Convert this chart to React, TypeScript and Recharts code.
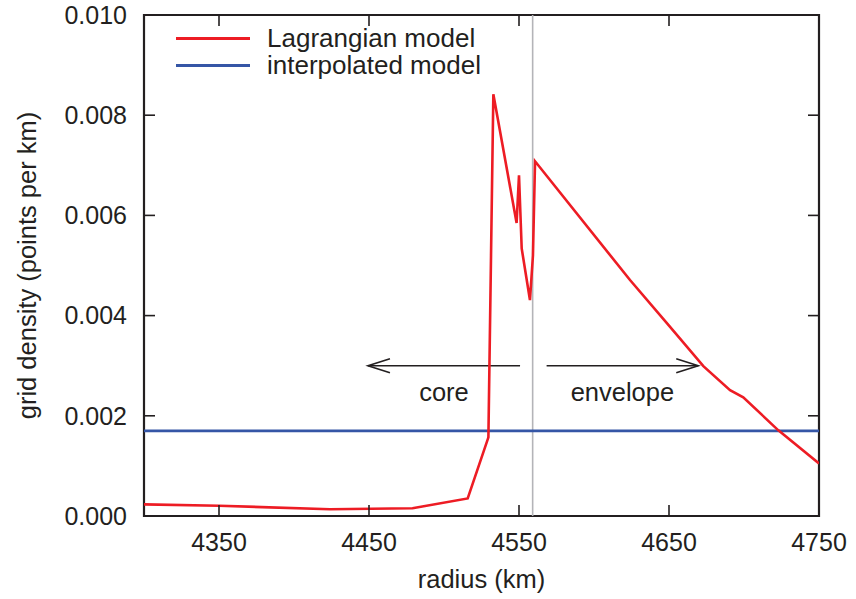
import React from "react";
import {
  LineChart,
  Line,
  XAxis,
  YAxis,
  ReferenceLine,
  ReferenceArea,
} from "recharts";

// values
const lagrangianRadius = [
  4300, 4350, 4424, 4479, 4515.8, 4529.6, 4532.9, 4548.4, 4550.0, 4551.8,
  4557.3, 4559.3, 4560.7, 4624, 4650, 4672.9, 4690.7, 4699.5, 4722.9, 4750,
];
const lagrangianDensity = [
  0.000233, 0.000205, 0.000134, 0.000154, 0.00035, 0.00157, 0.00842, 0.00585,
  0.0068, 0.00534, 0.00431, 0.0052, 0.00708, 0.00471, 0.0038, 0.00299,
  0.00251, 0.00237, 0.00171, 0.00105,
];
const interpolatedRadius = [4300, 4750];
const interpolatedDensity = [0.0017, 0.0017];

const xTicks = [4350, 4450, 4550, 4650, 4750];
const yTicks = [0, 0.002, 0.004, 0.006, 0.008, 0.01];
const xDomain = [4300, 4750];
const yDomain = [0, 0.01];

const boundaryRadius = 4559.1;
const arrowLevel = 0.003;
const coreArrow = [4550.7, 4449.3];
const envelopeArrow = [4568.4, 4669.5];

const INK = "#231f20";
const RED = "#ed1c24";
const BLUE = "#3556a6";
const FONT = '"Liberation Sans", Arial, Helvetica, sans-serif';

const lagrangian = lagrangianRadius.map((r, i) => ({ r, d: lagrangianDensity[i] }));
const interpolated = interpolatedRadius.map((r, i) => ({ r, d: interpolatedDensity[i] }));

const legendItems = [
  { name: "Lagrangian model", color: RED },
  { name: "interpolated model", color: BLUE },
];

const W = 856;
const H = 599;
const MARGIN = { top: 15, right: 37, bottom: 0, left: 0 };
const PLOT_TOP = MARGIN.top;
const PLOT_RIGHT = W - MARGIN.right;

// inward tick marks: negative tick size, labels pushed back out with the margin
const TICK = 11;
const tickLineStyle = { stroke: INK, strokeWidth: 1.6 };

// label + the matching mark on the opposite (top) side of the frame
const XTick = (p: any) => (
  <g>
    <text x={p.x} y={p.y} dy="0.71em" textAnchor="middle" fill={INK} fontSize={25} fontFamily={FONT}>
      {p.payload.value}
    </text>
    <line x1={p.x} y1={PLOT_TOP} x2={p.x} y2={PLOT_TOP + TICK} stroke={INK} strokeWidth={1.6} />
  </g>
);

// label + the matching mark on the right side of the frame
const YTick = (p: any) => (
  <g>
    <text x={p.x} y={p.y} dy="0.355em" textAnchor="end" fill={INK} fontSize={25} fontFamily={FONT}>
      {Number(p.payload.value).toFixed(3)}
    </text>
    <line x1={PLOT_RIGHT} y1={p.y} x2={PLOT_RIGHT - TICK} y2={p.y} stroke={INK} strokeWidth={1.6} />
  </g>
);

const Arrow = (p: any) => {
  const { x1, y1, x2, y2 } = p;
  const dir = Math.sign(x2 - x1);
  const head = 22;
  const half = 7;
  return (
    <g stroke={INK} strokeWidth={1.6} fill="none">
      <line x1={x1} y1={y1} x2={x2} y2={y2} />
      <polyline
        points={`${x2 - dir * head},${y2 - half} ${x2},${y2} ${x2 - dir * head},${y2 + half}`}
      />
    </g>
  );
};

const App: React.FC = () => {
  return (
    <div
      style={{
        position: "absolute",
        left: 0,
        top: 0,
        width: W,
        height: H,
        background: "#fff",
        fontFamily: FONT,
      }}
    >
      <LineChart width={W} height={H} margin={MARGIN}>
        <XAxis
          type="number"
          dataKey="r"
          domain={xDomain}
          ticks={xTicks}
          allowDataOverflow
          height={83}
          axisLine={false}
          tickLine={tickLineStyle}
          tickSize={-TICK}
          tickMargin={28}
          tick={XTick}
          label={{
            value: "radius (km)",
            position: "insideBottom",
            offset: 11,
            fill: INK,
            fontSize: 25.5,
            fontFamily: FONT,
          }}
        />
        <YAxis
          type="number"
          dataKey="d"
          domain={yDomain}
          ticks={yTicks}
          allowDataOverflow
          width={144}
          axisLine={false}
          tickLine={tickLineStyle}
          tickSize={-TICK}
          tickMargin={28}
          tick={YTick}
          label={{
            value: "grid density (points per km)",
            angle: -90,
            position: "insideLeft",
            offset: 27,
            fill: INK,
            fontSize: 25.5,
            fontFamily: FONT,
            style: { textAnchor: "middle" },
          }}
        />

        <ReferenceLine x={boundaryRadius} stroke="#b4b4b8" strokeWidth={1.6} />

        <ReferenceLine
          segment={[
            { x: coreArrow[0], y: arrowLevel },
            { x: coreArrow[1], y: arrowLevel },
          ]}
          shape={Arrow}
          label={{ value: "core", position: "bottom", offset: 17, fill: INK, fontSize: 25.5, fontFamily: FONT }}
        />
        <ReferenceLine
          segment={[
            { x: envelopeArrow[0], y: arrowLevel },
            { x: envelopeArrow[1], y: arrowLevel },
          ]}
          shape={Arrow}
          label={{ value: "envelope", position: "bottom", offset: 17, fill: INK, fontSize: 25.5, fontFamily: FONT }}
        />

        <Line
          data={interpolated}
          dataKey="d"
          type="linear"
          stroke={BLUE}
          strokeWidth={2.6}
          dot={false}
          isAnimationActive={false}
        />
        <Line
          data={lagrangian}
          dataKey="d"
          type="linear"
          stroke={RED}
          strokeWidth={2.6}
          strokeLinejoin="miter"
          dot={false}
          isAnimationActive={false}
        />

        <ReferenceArea
          x1={xDomain[0]}
          x2={xDomain[1]}
          y1={yDomain[0]}
          y2={yDomain[1]}
          fill="none"
          fillOpacity={0}
          stroke={INK}
          strokeWidth={2.2}
        />
      </LineChart>

      <div
        style={{
          position: "absolute",
          left: 176,
          top: 25,
          color: INK,
          fontSize: 26,
          lineHeight: "27px",
        }}
      >
        {legendItems.map((item) => (
          <div key={item.name} style={{ display: "flex", alignItems: "center" }}>
            <div
              style={{
                width: 74,
                height: 3,
                background: item.color,
                marginRight: 17,
              }}
            />
            <span>{item.name}</span>
          </div>
        ))}
      </div>
    </div>
  );
};

export default App;
